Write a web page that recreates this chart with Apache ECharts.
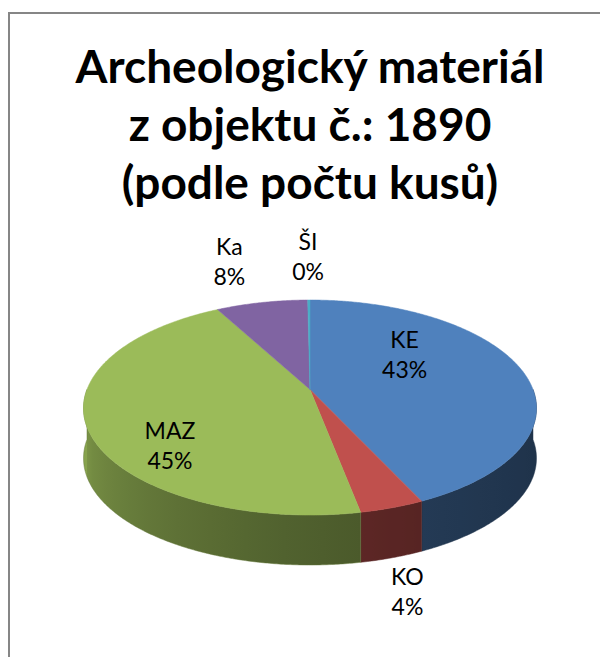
<!DOCTYPE html>
<html>
<head>
<meta charset="utf-8">
<script src="https://cdn.jsdelivr.net/npm/echarts@6/dist/echarts.min.js"></script>
<style>
  html, body { margin: 0; padding: 0; background: #fff; }
  #chart { width: 600px; height: 657px; }
</style>
</head>
<body>
<div id="chart"></div>
<script>
// --- data ---
var names = ['KE', 'KO', 'MAZ', 'Ka', 'ŠI'];
var values = [43, 4, 45, 8, 0.2];
var colors = ['#4F81BD', '#C0504D', '#9BBB59', '#8064A2', '#4BACC6'];
var titleLines = ['Archeologický materiál', 'z objektu č.: 1890', '(podle počtu kusů)'];

(function() {
  var total = values.reduce(function(a, b) { return a + b; }, 0);

  // pie geometry (3D look, tilted with a bit of perspective)
  var cx = 310, rimTop = 300, rimBottom = 515;
  var cyMid = (rimTop + rimBottom) / 2, ry = (rimBottom - rimTop) / 2;
  var rx = 223, depth = 50, persp = 0.18, bulge = 18;

  function pt(theta, r, dz) {
    var u = Math.sin(theta) * r, v = -Math.cos(theta) * r;
    return [cx + rx * u * (1 + persp * v), cyMid + ry * v + bulge * (v * v - 1) + dz];
  }
  function arc(a0, a1, dz) {
    var n = Math.max(2, Math.ceil((a1 - a0) / (Math.PI / 360)));
    var out = [];
    for (var i = 0; i <= n; i++) out.push(pt(a0 + (a1 - a0) * i / n, 1, dz));
    return out;
  }
  function shade(hex, f) {
    var n = parseInt(hex.slice(1), 16);
    var r = Math.round(((n >> 16) & 255) * f), g = Math.round(((n >> 8) & 255) * f), b = Math.round((n & 255) * f);
    return 'rgb(' + r + ',' + g + ',' + b + ')';
  }
  function sideFactor(theta) {
    var t = (theta - Math.PI / 2) / Math.PI;
    return 0.39 + 0.48 * t * t;
  }

  function renderItem(params, api) {
    var idx = params.dataIndex;
    var before = 0;
    for (var i = 0; i < idx; i++) before += values[i];
    var a0 = before / total * Math.PI * 2;
    var a1 = (before + api.value(0)) / total * Math.PI * 2;
    var base = colors[idx];
    var children = [];

    // front side wall
    var s = Math.max(a0, Math.PI / 2), e = Math.min(a1, Math.PI * 3 / 2);
    if (s < e) {
      var top = arc(s, e, 0);
      var bot = arc(s, e, depth).reverse();
      var pts = top.concat(bot);
      var minX = Infinity, maxX = -Infinity;
      pts.forEach(function(p) { minX = Math.min(minX, p[0]); maxX = Math.max(maxX, p[0]); });
      var stops = [], last = 0, n = 12;
      for (var k = 0; k <= n; k++) {
        var th = e - (e - s) * k / n;
        var off = (pt(th, 1, 0)[0] - minX) / (maxX - minX || 1);
        off = Math.min(1, Math.max(last, off));
        last = off;
        stops.push({ offset: off, color: shade(base, sideFactor(th)) });
      }
      children.push({
        type: 'polygon',
        shape: { points: pts },
        style: {
          fill: { type: 'linear', x: 0, y: 0, x2: 1, y2: 0, colorStops: stops },
          stroke: shade(base, sideFactor((s + e) / 2)), lineWidth: 0.5
        }
      });
    }

    // top face
    children.push({
      type: 'polygon',
      shape: { points: [pt(0, 0, 0)].concat(arc(a0, a1, 0)) },
      style: { fill: base, stroke: base, lineWidth: 0.5 }
    });

    // label
    var mid = (a0 + a1) / 2, u = Math.sin(mid), v = -Math.cos(mid);
    var share = api.value(0) / total;
    var lx, ly;
    if (share >= 0.1) {
      lx = cx - 25 + 0.55 * rx * u;
      ly = pt(0, 0, 0)[1] + 1.5 * ry * v;
    } else {
      lx = cx + 310 * u;
      ly = cyMid + 20 + 172 * v;
    }
    children.push({
      type: 'text',
      z2: 10,
      style: {
        text: names[idx] + '\n' + Math.round(share * 100) + '%',
        x: lx, y: ly,
        align: 'center', verticalAlign: 'middle',
        fontFamily: 'Lato', fontSize: 23, lineHeight: 30,
        fill: '#000'
      }
    });

    return { type: 'group', children: children };
  }

  var chart = echarts.init(document.getElementById('chart'), null, { renderer: 'svg' });
  chart.setOption({
    animation: false,
    backgroundColor: '#fff',
    title: {
      text: titleLines.join('\n'),
      left: 305,
      top: 31,
      textAlign: 'center',
      textStyle: { fontFamily: 'Lato', fontSize: 46, fontWeight: 'bold', color: '#000', lineHeight: 58 }
    },
    graphic: [{
      type: 'rect',
      shape: { x: 9, y: 13, width: 800, height: 800 },
      style: { fill: 'none', stroke: '#868686', lineWidth: 2 },
      silent: true
    }],
    series: [{
      type: 'custom',
      coordinateSystem: 'none',
      renderItem: renderItem,
      data: values.map(function(v, i) { return { name: names[i], value: [v, i] }; })
    }]
  });
})();
</script>
</body>
</html>
